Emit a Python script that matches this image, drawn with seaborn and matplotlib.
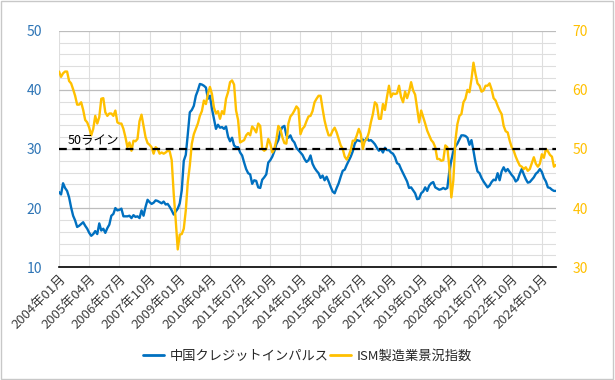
import numpy as np
import pandas as pd
import seaborn as sns
import matplotlib
matplotlib.use("Agg")
import matplotlib.pyplot as plt
from matplotlib.lines import Line2D
from matplotlib.ticker import MultipleLocator


#%% data (monthly, 2004-01 .. 2024-08)

start_month = "2004-01"

credit_impulse = [
    22.7, 22.3, 24.2, 23.4, 22.9, 21.8, 20.1, 18.7, 17.9, 16.8, 17.0, 17.3,  # 2004
    17.6, 17.0, 16.5, 15.8, 15.3, 15.6, 16.1, 15.6, 17.4, 16.2, 16.5, 15.8,  # 2005
    16.6, 17.2, 18.7, 19.0, 20.0, 19.6, 19.7, 19.9, 18.6, 18.6, 18.6, 18.7,  # 2006
    18.3, 18.8, 18.5, 18.6, 18.3, 19.6, 18.7, 20.2, 21.4, 21.0, 20.7, 20.9,  # 2007
    21.3, 21.2, 21.0, 20.8, 21.1, 20.6, 20.7, 20.2, 19.6, 18.9, 19.4, 19.9,  # 2008
    20.8, 23.0, 28.0, 29.0, 32.5, 36.2, 36.6, 37.3, 39.0, 39.9, 41.0, 40.9,  # 2009
    40.7, 40.4, 38.5, 39.0, 36.8, 35.1, 33.4, 34.1, 33.6, 33.7, 33.4, 33.8,  # 2010
    32.1, 31.3, 31.9, 30.6, 30.3, 30.3, 29.4, 28.9, 27.7, 26.6, 25.9, 25.7,  # 2011
    24.1, 24.7, 24.6, 23.5, 23.4, 24.8, 25.2, 25.7, 27.7, 28.1, 28.7, 29.6,  # 2012
    30.8, 31.5, 33.0, 33.7, 33.9, 32.3, 31.9, 32.3, 31.5, 31.1, 30.2, 29.8,  # 2013
    29.4, 29.0, 28.3, 27.8, 28.1, 28.9, 27.5, 26.8, 26.3, 25.9, 25.1, 25.5,  # 2014
    24.7, 25.3, 24.5, 23.6, 22.8, 22.5, 23.4, 24.2, 25.3, 26.3, 26.5, 27.3,  # 2015
    28.0, 28.7, 29.6, 30.9, 31.5, 31.4, 31.3, 31.6, 31.3, 31.9, 31.4, 31.5,  # 2016
    31.2, 30.8, 30.2, 29.7, 30.0, 29.4, 30.2, 29.8, 29.8, 29.4, 29.2, 28.6,  # 2017
    27.6, 27.4, 26.6, 25.9, 25.2, 24.5, 23.4, 23.5, 23.0, 22.5, 21.5, 21.6,  # 2018
    22.5, 22.8, 23.5, 22.9, 23.8, 24.2, 24.4, 23.5, 23.3, 23.1, 23.2, 23.4,  # 2019
    23.2, 23.4, 26.2, 28.1, 29.6, 30.4, 30.9, 31.6, 32.3, 32.3, 32.2, 31.9,  # 2020
    30.7, 31.5, 29.7, 27.7, 26.2, 25.9, 25.1, 24.5, 24.0, 23.5, 23.8, 24.4,  # 2021
    24.8, 24.7, 25.9, 24.7, 26.2, 26.9, 26.2, 26.6, 26.1, 25.6, 25.2, 24.5,  # 2022
    24.8, 25.8, 26.6, 25.7, 24.9, 24.3, 24.4, 24.8, 25.2, 25.8, 26.1, 26.6,  # 2023
    26.1, 25.1, 24.5, 23.5, 23.4, 23.1, 22.9, 22.9,                          # 2024
]

ism_pmi = [
    63.1, 62.2, 62.8, 63.1, 63.1, 61.5, 61.1, 60.1, 59.0, 57.5, 57.5, 57.9,  # 2004
    56.6, 54.9, 54.5, 53.6, 52.3, 53.4, 55.6, 54.3, 55.4, 58.5, 58.6, 56.2,  # 2005
    55.6, 56.0, 56.0, 55.6, 56.5, 54.5, 54.3, 54.3, 53.4, 52.0, 50.3, 51.1,  # 2006
    49.7, 51.4, 51.3, 51.7, 54.7, 55.8, 53.9, 52.0, 51.0, 50.7, 50.3, 49.2,  # 2007
    50.3, 50.0, 49.2, 49.4, 49.2, 49.4, 49.7, 49.6, 48.1, 42.4, 37.9, 33.0,  # 2008
    35.5, 35.6, 36.5, 39.6, 44.4, 47.2, 50.9, 52.5, 53.4, 54.3, 55.6, 56.4,  # 2009
    58.2, 57.6, 59.3, 60.5, 59.3, 57.0, 56.0, 56.4, 55.1, 56.4, 55.9, 58.5,  # 2010
    59.6, 61.3, 61.6, 60.9, 56.5, 54.9, 51.1, 51.3, 51.5, 52.3, 52.7, 52.3,  # 2011
    53.8, 53.4, 52.8, 54.3, 53.9, 50.0, 49.7, 50.0, 51.7, 50.9, 49.4, 50.0,  # 2012
    51.5, 53.9, 53.4, 52.0, 51.0, 50.9, 54.3, 55.5, 55.9, 56.5, 57.2, 56.8,  # 2013
    52.5, 53.4, 53.8, 54.7, 55.5, 55.6, 56.4, 57.9, 58.5, 59.0, 59.0, 56.8,  # 2014
    54.8, 53.4, 52.3, 52.3, 53.1, 53.6, 52.8, 51.7, 50.6, 50.0, 48.7, 48.2,  # 2015
    48.9, 49.8, 51.4, 51.4, 52.3, 53.4, 52.5, 50.0, 51.4, 51.7, 52.8, 54.5,  # 2016
    55.9, 57.9, 57.5, 55.1, 55.1, 57.6, 56.6, 58.8, 60.7, 58.8, 59.4, 59.3,  # 2017
    59.4, 60.7, 58.8, 57.9, 59.7, 58.6, 59.7, 61.3, 59.9, 59.2, 56.8, 54.5,  # 2018
    56.5, 55.4, 54.3, 53.1, 52.3, 51.5, 51.1, 50.3, 48.3, 48.3, 48.0, 48.1,  # 2019
    50.6, 50.3, 46.9, 41.8, 44.7, 51.4, 54.2, 55.6, 55.9, 57.9, 58.5, 60.0,  # 2020
    59.6, 61.8, 64.6, 62.7, 61.1, 60.7, 59.7, 59.9, 60.7, 60.7, 61.1, 60.1,  # 2021
    58.6, 58.2, 57.3, 56.5, 55.9, 53.9, 53.0, 52.8, 51.4, 50.3, 49.7, 48.7,  # 2022
    47.9, 47.2, 47.0, 46.6, 46.9, 46.3, 46.6, 47.6, 48.6, 47.5, 47.0, 47.5,  # 2023
    49.1, 48.5, 50.0, 49.6, 49.0, 48.7, 47.0, 47.3,                          # 2024
]

series_names = ["中国クレジットインパルス", "ISM製造業景況指数"]
line_label = "50ライン"

months = pd.date_range(start_month, periods=len(credit_impulse), freq="MS")
df = pd.DataFrame({"idx": np.arange(len(months)),
                   "credit": credit_impulse,
                   "ism": ism_pmi})

tick_idx = list(range(0, len(months), 15))
tick_labels = [f"{months[i].year}年{months[i].month:02d}月" for i in tick_idx]


#%% plot

sns.set_style("white")
plt.rcParams["font.family"] = ["Noto Sans CJK JP", "DejaVu Sans"]

blue = "#0070C0"
gold = "#FFC000"

fig = plt.figure(figsize=(6.15, 3.8), dpi=100)
ax = fig.add_axes([0.096, 0.297, 0.808, 0.622])
ax2 = ax.twinx()

sns.lineplot(data=df, x="idx", y="credit", ax=ax, color=blue, lw=1.7)
sns.lineplot(data=df, x="idx", y="ism", ax=ax2, color=gold, lw=1.7)
ax2.axhline(50, color="black", lw=1.6, ls=(0, (3.5, 2.5)), zorder=5)
ax2.text(4.5, 50.3, line_label, fontsize=9, color="black", va="bottom")

ax.set_xlim(0, len(months) - 1)
ax.set_ylim(10, 50)
ax2.set_ylim(30, 70)
ax.set_yticks([10, 20, 30, 40, 50])
ax2.set_yticks([30, 40, 50, 60, 70])
ax.yaxis.set_minor_locator(MultipleLocator(2))

ax.set_xticks(tick_idx)
ax.set_xticklabels(tick_labels, rotation=45, ha="right", rotation_mode="anchor",
                   fontsize=9.5, color="#404040")

ax.grid(which="major", axis="y", color="#bdbdbd", lw=0.9)
ax.grid(which="minor", axis="y", color="#dedede", lw=0.8)
ax.grid(which="major", axis="x", color="#dedede", lw=0.8)
ax.set_axisbelow(True)

ax.tick_params(axis="y", which="both", length=0, pad=12, labelsize=10, labelcolor="#2E75B6")
ax2.tick_params(axis="y", length=0, pad=12, labelsize=10, labelcolor=gold)
ax.tick_params(axis="x", length=0, pad=4)
ax.set_xlabel("")
ax.set_ylabel("")
ax2.set_ylabel("")

for a in (ax, ax2):
    for side in ("top", "left", "right", "bottom"):
        a.spines[side].set_visible(False)
ax.spines["bottom"].set_visible(True)
ax.spines["bottom"].set_color("black")
ax.spines["bottom"].set_linewidth(1.2)

handles = [Line2D([], [], color=blue, lw=2), Line2D([], [], color=gold, lw=2)]
fig.legend(handles, series_names, loc="center", bbox_to_anchor=(0.5, 0.062), ncol=2,
           frameon=False, fontsize=9.5, handlelength=1.6, handletextpad=0.4,
           columnspacing=0.1)

fig.add_artist(plt.Rectangle((0.002, 0.003), 0.995, 0.994, transform=fig.transFigure,
                             fill=False, ec="#c8c8c8", lw=1))

fig.savefig("out.png", dpi=100)
